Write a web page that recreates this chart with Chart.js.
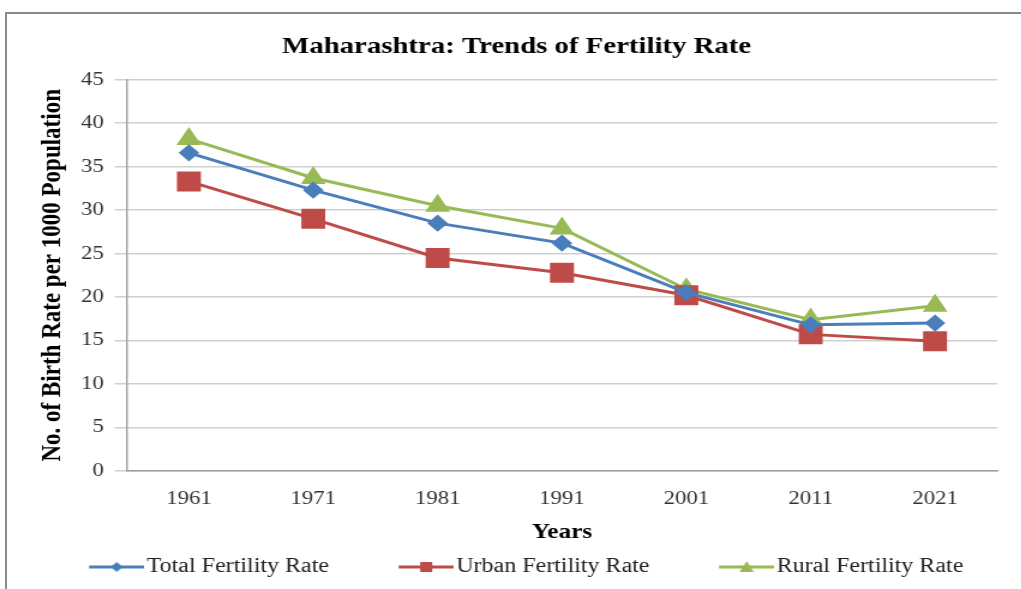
<!DOCTYPE html>
<html>
<head>
<meta charset="utf-8">
<script src="https://cdn.jsdelivr.net/npm/chart.js@4.4.1/dist/chart.umd.min.js"></script>
<style>
  html, body { margin: 0; padding: 0; background: #fff; overflow: hidden; }
  #frame { position: absolute; left: 5px; top: 12px; width: 1040px; height: 620px;
           border-left: 2px solid #8a8a8a; border-top: 2px solid #8a8a8a; }
  #wrap { position: absolute; left: 0; top: 0; width: 851px; height: 589px;
          transform: scaleX(1.2); transform-origin: 0 0; }
</style>
</head>
<body>
<div id="frame"></div>
<div id="wrap"><canvas id="c"></canvas></div>
<script>
const categories = ['1961', '1971', '1981', '1991', '2001', '2011', '2021'];
const totalRate = [36.6, 32.3, 28.5, 26.2, 20.5, 16.8, 17.0];
const urbanRate = [33.3, 29.0, 24.5, 22.8, 20.2, 15.7, 14.9];
const ruralRate = [38.2, 33.7, 30.5, 27.9, 20.9, 17.4, 19.0];
const seriesNames = ['Total Fertility Rate', 'Urban Fertility Rate', 'Rural Fertility Rate'];
const yTicks = [0, 5, 10, 15, 20, 25, 30, 35, 40, 45];

const BLUE = '#4a7ebb', RED = '#be4b48', GREEN = '#98b954';
const FONT = '"Liberation Serif", "Times New Roman", serif';

const BOXW = 86;           // legend box width
const ICONW = BOXW + 16;   // icon canvas overflows box by 8 each side
function legendIcon(color, shape) {
  const c = document.createElement('canvas');
  c.width = ICONW; c.height = 16;
  const g = c.getContext('2d');
  const x0 = ICONW - 46, x1 = ICONW, cx = (x0 + x1) / 2;
  g.strokeStyle = color; g.lineWidth = 3;
  g.beginPath(); g.moveTo(x0, 8); g.lineTo(x1, 8); g.stroke();
  g.fillStyle = color;
  g.beginPath();
  if (shape === 'diamond') {
    g.moveTo(cx, 3); g.lineTo(cx + 5, 8); g.lineTo(cx, 13); g.lineTo(cx - 5, 8);
  } else if (shape === 'square') {
    g.rect(cx - 5, 3, 10, 10);
  } else {
    g.moveTo(cx, 2); g.lineTo(cx + 6, 13); g.lineTo(cx - 6, 13);
  }
  g.closePath(); g.fill();
  return c;
}
const icons = [legendIcon(BLUE, 'diamond'), legendIcon(RED, 'square'), legendIcon(GREEN, 'triangle')];

// nudge the legend row slightly left (matches the reference placement)
const legendShift = {
  id: 'legendShift',
  afterLayout(chart) {
    if (chart.legend) { chart.legend.left -= 16; chart.legend.right -= 16; }
  }
};

new Chart(document.getElementById('c'), {
  type: 'line',
  plugins: [legendShift],
  data: {
    labels: categories,
    datasets: [
      { label: seriesNames[0], data: totalRate, borderColor: BLUE, backgroundColor: BLUE,
        borderWidth: 3, pointStyle: 'rectRot', pointRadius: 6.5, pointHoverRadius: 6.5, tension: 0 },
      { label: seriesNames[1], data: urbanRate, borderColor: RED, backgroundColor: RED,
        borderWidth: 3, pointStyle: 'rect', pointRadius: 12, pointHoverRadius: 12, tension: 0 },
      { label: seriesNames[2], data: ruralRate, borderColor: GREEN, backgroundColor: GREEN,
        borderWidth: 3, pointStyle: 'triangle', pointRadius: 9, pointHoverRadius: 9, tension: 0 }
    ]
  },
  options: {
    responsive: true,
    maintainAspectRatio: false,
    animation: false,
    layout: { padding: { left: 30, right: 20, top: 32, bottom: 2 } },
    plugins: {
      title: {
        display: true,
        text: 'Maharashtra: Trends of Fertility Rate',
        color: '#000',
        font: { family: FONT, size: 24, weight: 'bold' },
        padding: { top: 0, bottom: 19 }
      },
      legend: {
        position: 'bottom',
        labels: {
          usePointStyle: true,
          pointStyleWidth: BOXW,
          color: '#222',
          padding: 10,
          font: { family: FONT, size: 20 },
          generateLabels: (chart) => {
            const items = Chart.defaults.plugins.legend.labels.generateLabels(chart);
            items.forEach((it, i) => { it.pointStyle = icons[i]; });
            return items;
          }
        }
      },
      tooltip: { enabled: false }
    },
    scales: {
      x: {
        offset: true,
        grid: { display: false },
        border: { display: true, color: '#a0a0a0', width: 1.5 },
        ticks: { color: '#333', font: { family: FONT, size: 19, lineHeight: 1.0 }, padding: 11 },
        title: { display: true, text: 'Years', color: '#000',
                 font: { family: FONT, size: 21, weight: 'bold' }, padding: { top: 0, bottom: 2 } }
      },
      y: {
        min: 0, max: 45,
        afterBuildTicks: (axis) => { axis.ticks = yTicks.map(v => ({ value: v })); },
        grid: { color: '#cfcfcf', lineWidth: 1.5, drawTicks: true, tickLength: 10 },
        border: { display: true, color: '#a0a0a0', width: 1.5 },
        ticks: { color: '#333', font: { family: FONT, size: 19 }, padding: 9 },
        title: { display: true, text: 'No. of Birth Rate per 1000 Population', color: '#000',
                 font: { family: FONT, size: 23, weight: 'bold' }, padding: { top: 0, bottom: 1 } }
      }
    }
  }
});
</script>
</body>
</html>
